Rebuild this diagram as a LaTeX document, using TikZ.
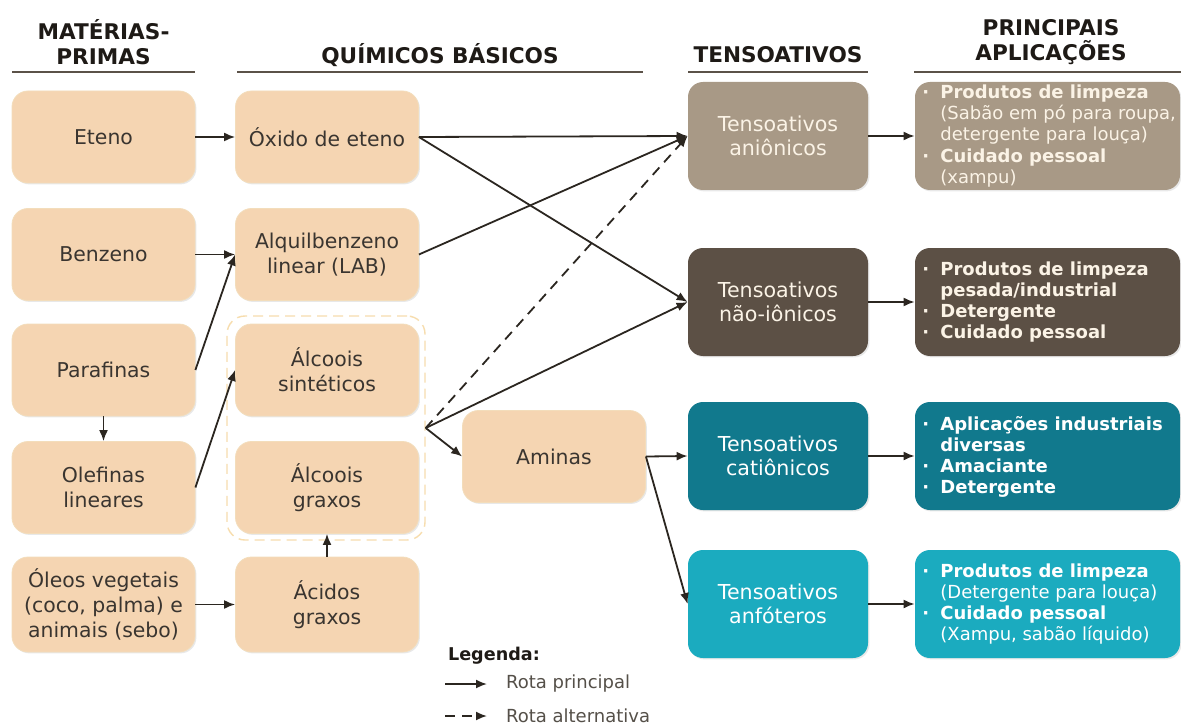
\documentclass[tikz,border=0pt]{standalone}
\usepackage{fontspec}
\setmainfont{DejaVu Sans}
\usetikzlibrary{arrows.meta,shadows}
\definecolor{peach}{HTML}{F5D5B2}
\definecolor{peachedge}{HTML}{F3DDBB}
\definecolor{boxtext}{HTML}{3A3530}
\definecolor{tanion}{HTML}{A89986}
\definecolor{tnoion}{HTML}{5C5045}
\definecolor{tcation}{HTML}{11798D}
\definecolor{tanfo}{HTML}{1BABBF}
\definecolor{cream}{HTML}{FBF3E6}
\definecolor{hdrcol}{HTML}{1E1A16}
\definecolor{ulcol}{HTML}{5B5248}
\definecolor{arrcol}{HTML}{2B2620}
\definecolor{grpcol}{HTML}{F7DDAE}
\definecolor{legtext}{HTML}{555049}
\newcommand\bul{\makebox[9pt][l]{\textbf{·}}}
\newcommand\ind{\hspace*{9pt}}
\begin{document}
\begin{tikzpicture}[x=0.5pt,y=-0.5pt,
  peachbox/.style={fill=peach, draw=peachedge, line width=0.4pt, rounded corners=8pt,
    minimum width=91.5pt, minimum height=46pt, align=center, text=boxtext,
    font=\fontsize{10.2}{12.5}\selectfont,
    drop shadow={shadow xshift=0.7pt, shadow yshift=-0.7pt, opacity=0.18, fill=black!50}},
  tbox/.style={rounded corners=7.5pt, minimum width=90pt, minimum height=54pt,
    align=center, text=cream, font=\fontsize{10.3}{12}\selectfont,
    drop shadow={shadow xshift=0.7pt, shadow yshift=-0.7pt, opacity=0.18, fill=black!50}},
  abox/.style={rounded corners=7.5pt, minimum width=132.5pt, minimum height=54pt,
    drop shadow={shadow xshift=0.7pt, shadow yshift=-0.7pt, opacity=0.18, fill=black!50}},
  atext/.style={anchor=west, align=left, text=cream, font=\fontsize{9}{10.6}\selectfont, inner sep=0pt},
  hdr/.style={font=\bfseries\fontsize{10.8}{12.5}\selectfont, text=hdrcol, align=center},
  uline/.style={draw=ulcol, line width=1pt},
  arr/.style={-{Latex[length=5.5pt,width=4.5pt]}, line width=0.9pt, draw=arrcol},
  darr/.style={arr, dash pattern=on 5pt off 3.5pt},
  grpbox/.style={draw=grpcol, line width=0.7pt, dash pattern=on 5pt off 3pt, rounded corners=9pt},
  legt/.style={anchor=west, text=legtext, font=\fontsize{9}{11}\selectfont}
]
\fill[white] (0,0) rectangle (1181,727);
\useasboundingbox (0,0) rectangle (1181,727);

% headers
\node[hdr] (h1) at (103.5,42) {MATÉRIAS-\\PRIMAS};
\node[hdr] (h2) at (440,55) {QUÍMICOS BÁSICOS};
\node[hdr] (h3) at (778,55) {TENSOATIVOS};
\node[hdr] (h4) at (1051,42) {PRINCIPAIS\\APLICAÇÕES};
\draw[uline] (12,72) -- (195,72);
\draw[uline] (237,72) -- (643,72);
\draw[uline] (688,72) -- (868,72);
\draw[uline] (914,72) -- (1181,72);

% group of alcohols
\node[grpbox, minimum width=99pt, minimum height=112pt] (grp) at (326,428) {};

% raw materials
\node[peachbox] (r1) at (103.5,137) {Eteno};
\node[peachbox] (r2) at (103.5,254.5) {Benzeno};
\node[peachbox] (r3) at (103.5,370) {Parafinas};
\node[peachbox] (r4) at (103.5,487.5) {Olefinas\\lineares};
\node[peachbox, minimum height=47.5pt] (r5) at (103.5,604.5) {Óleos vegetais\\(coco, palma) e\\animais (sebo)};

% basic chemicals
\node[peachbox] (c1) at (327,137) {Óxido de eteno};
\node[peachbox] (c2) at (327,254.5) {Alquilbenzeno\\linear (LAB)};
\node[peachbox] (c3) at (327,370) {Álcoois\\sintéticos};
\node[peachbox] (c4) at (327,487.5) {Álcoois\\graxos};
\node[peachbox, minimum height=47.5pt] (c6) at (327,604.5) {Ácidos\\graxos};
\node[peachbox] (am) at (554,456.5) {Aminas};

% surfactants
\node[tbox, fill=tanion] (t1) at (778,136) {Tensoativos\\aniônicos};
\node[tbox, fill=tnoion] (t2) at (778,302) {Tensoativos\\não-iônicos};
\node[tbox, fill=tcation, text=white] (t3) at (778,456) {Tensoativos\\catiônicos};
\node[tbox, fill=tanfo, text=white] (t4) at (778,604) {Tensoativos\\anfóteros};

% applications
\node[abox, fill=tanion] (a1) at (1047.5,136) {};
\node[abox, fill=tnoion] (a2) at (1047.5,302) {};
\node[abox, fill=tcation] (a3) at (1047.5,456) {};
\node[abox, fill=tanfo] (a4) at (1047.5,604) {};
\node[atext] (a1t) at (922,136) {\bul\textbf{Produtos de limpeza}\\\ind(Sabão em pó para roupa,\\\ind detergente para louça)\\\bul\textbf{Cuidado pessoal}\\\ind(xampu)};
\node[atext] (a2t) at (922,302) {\bul\textbf{Produtos de limpeza}\\\ind\textbf{pesada/industrial}\\\bul\textbf{Detergente}\\\bul\textbf{Cuidado pessoal}};
\node[atext, text=white] (a3t) at (922,457) {\bul\textbf{Aplicações industriais}\\\ind\textbf{diversas}\\\bul\textbf{Amaciante}\\\bul\textbf{Detergente}};
\node[atext, text=white] (a4t) at (922,604) {\bul\textbf{Produtos de limpeza}\\\ind(Detergente para louça)\\\bul\textbf{Cuidado pessoal}\\\ind(Xampu, sabão líquido)};

% connectors
\draw[arr] (r1.east) -- (c1.west);
\draw[arr] (r2.east) -- (c2.west);
\draw[arr] (r3.east) -- (c2.west);
\draw[arr] (r4.east) -- (c3.west);
\draw[arr] (r3.south) -- (r4.north);
\draw[arr] (r5.east) -- (c6.west);
\draw[arr] (c6.north) -- (c4.south);
\draw[arr] (c1.east) -- (t1.west);
\draw[arr] (c1.east) -- (t2.west);
\draw[arr] (c2.east) -- (t1.west);
\draw[darr] (grp.east) -- (t1.west);
\draw[arr] (grp.east) -- (t2.west);
\draw[arr] (grp.east) -- (am.west);
\draw[arr] (am.east) -- (t3.west);
\draw[arr] (am.east) -- (t4.west);
\draw[arr] (t1.east) -- (a1.west);
\draw[arr] (t2.east) -- (a2.west);
\draw[arr] (t3.east) -- (a3.west);
\draw[arr] (t4.east) -- (a4.west);

% legend
\node[anchor=west, text=hdrcol, font=\bfseries\fontsize{8.8}{11}\selectfont] (lg) at (441,656) {Legenda:};
\coordinate (l1a) at (445,684);
\coordinate (l1b) at (487,684);
\coordinate (l2a) at (445,716);
\coordinate (l2b) at (487,716);
\draw[arr] (l1a) -- (l1b);
\draw[darr] (l2a) -- (l2b);
\node[legt] (l1t) at (499,684) {Rota principal};
\node[legt] (l2t) at (499,716) {Rota alternativa};
\end{tikzpicture}
\end{document}
